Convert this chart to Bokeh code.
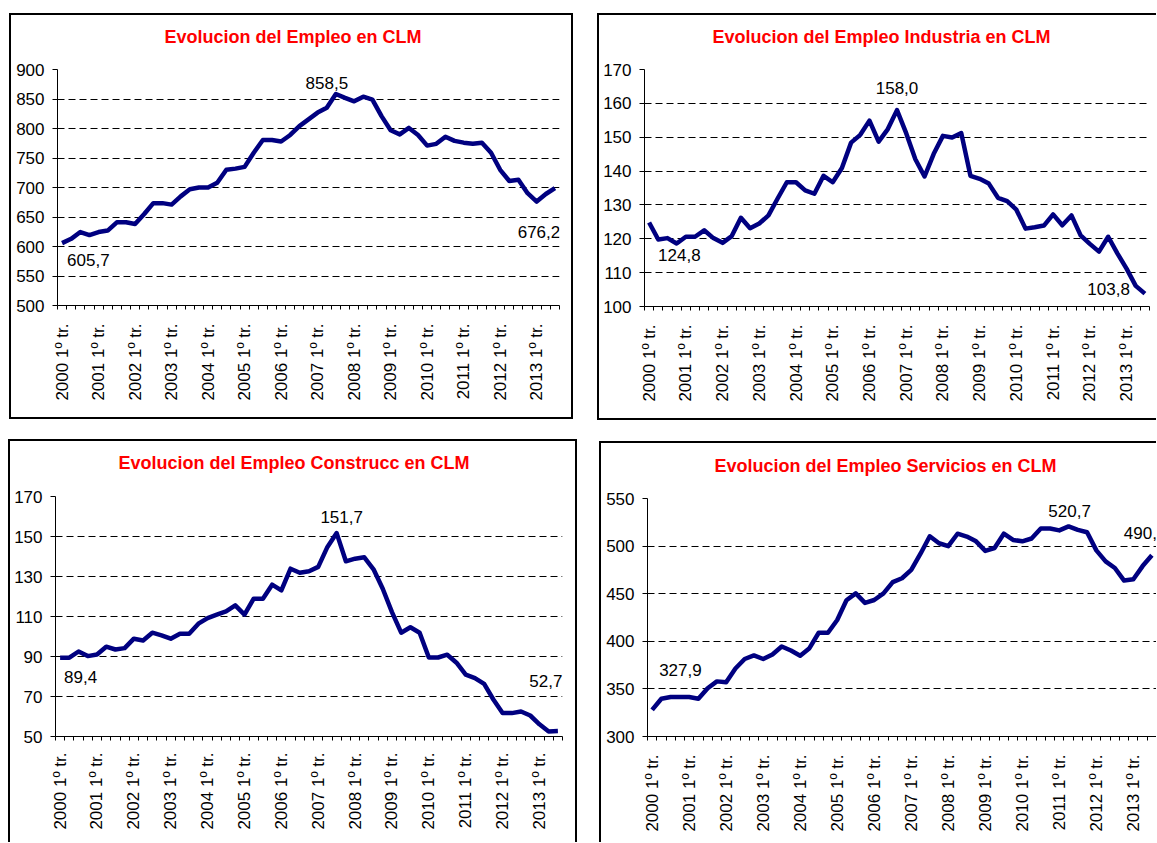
import math
from bokeh.plotting import figure
from bokeh.models import FixedTicker, Label, Range1d, Title
from bokeh.layouts import row, column
from bokeh.embed import file_html
from bokeh.resources import INLINE

# ---------------- data ----------------
tick_index = [0, 4, 8, 12, 16, 20, 24, 28, 32, 36, 40, 44, 48, 52]
tick_labels = ["2000 1º tr.", "2001 1º tr.", "2002 1º tr.", "2003 1º tr.",
               "2004 1º tr.", "2005 1º tr.", "2006 1º tr.", "2007 1º tr.",
               "2008 1º tr.", "2009 1º tr.", "2010 1º tr.", "2011 1º tr.",
               "2012 1º tr.", "2013 1º tr."]

empleo_total = [605.7, 613.0, 624.5, 619.4,
                624.5, 627.0, 641.0, 641.0,
                638.0, 655.0, 673.5, 673.5,
                671.0, 685.0, 697.0, 700.0,
                700.0, 708.0, 730.0, 732.0,
                735.0, 759.0, 780.6, 780.6,
                778.0, 789.0, 804.0, 815.5,
                827.0, 835.0, 858.5, 852.0,
                846.0, 854.0, 849.0, 821.0,
                797.0, 790.0, 801.0, 789.0,
                771.0, 774.0, 786.0, 779.0,
                776.0, 774.0, 776.0, 759.0,
                730.0, 711.0, 713.0, 690.4,
                676.2, 689.0, 699.0]

empleo_industria = [124.8, 119.8, 120.2, 118.6,
                    120.6, 120.6, 122.5, 120.2,
                    118.8, 120.8, 126.2, 123.1,
                    124.5, 126.9, 131.9, 136.7,
                    136.7, 134.3, 133.3, 138.6,
                    136.7, 140.9, 148.4, 150.7,
                    154.9, 148.7, 152.4, 158.0,
                    151.2, 143.5, 138.4, 145.1,
                    150.4, 149.9, 151.2, 138.6,
                    137.7, 136.3, 132.1, 131.1,
                    128.6, 123.0, 123.4, 123.9,
                    127.2, 124.0, 126.9, 121.0,
                    118.5, 116.2, 120.6, 115.7,
                    111.2, 106.1, 103.8]

empleo_construccion = [89.4, 89.4, 92.5, 90.2,
                       91.0, 94.9, 93.5, 94.2,
                       98.9, 98.0, 101.9, 100.6,
                       98.9, 101.4, 101.4, 106.4,
                       109.2, 110.9, 112.6, 115.6,
                       110.9, 118.9, 118.9, 125.9,
                       123.1, 133.9, 131.9, 132.6,
                       134.8, 144.8, 151.7, 137.6,
                       138.9, 139.6, 133.6, 123.9,
                       112.2, 101.9, 104.6, 101.9,
                       89.5, 89.5, 90.9, 86.9,
                       80.9, 79.2, 76.3, 68.5,
                       61.7, 61.7, 62.5, 60.5,
                       56.1, 52.5, 52.7]

empleo_servicios = [327.9, 339.7, 341.4, 341.4,
                    341.4, 339.7, 350.7, 357.9,
                    356.9, 371.4, 381.4, 385.2,
                    381.4, 386.2, 394.5, 390.3,
                    384.8, 392.8, 409.0, 409.0,
                    422.4, 443.1, 450.3, 440.3,
                    443.4, 450.3, 462.1, 466.2,
                    475.0, 492.0, 510.3, 503.0,
                    500.0, 513.0, 510.0, 505.0,
                    495.0, 498.0, 513.0, 506.5,
                    505.0, 508.0, 518.5, 518.5,
                    516.5, 520.7, 517.0, 514.5,
                    495.5, 484.0, 477.0, 463.8,
                    465.2, 479.0, 490.3]

yticks_total = [500, 550, 600, 650, 700, 750, 800, 850, 900]
yticks_industria = [100, 110, 120, 130, 140, 150, 160, 170]
yticks_construccion = [50, 70, 90, 110, 130, 150, 170]
yticks_servicios = [300, 350, 400, 450, 500, 550]

titles = ["Evolucion del Empleo en CLM",
          "Evolucion del Empleo Industria en CLM",
          "Evolucion del Empleo Construcc en CLM",
          "Evolucion del Empleo Servicios en CLM"]

# point labels: (index, text)
labels_total = [(0, "605,7"), (30, "858,5"), (52, "676,2")]
labels_industria = [(0, "124,8"), (27, "158,0"), (54, "103,8")]
labels_construccion = [(0, "89,4"), (30, "151,7"), (54, "52,7")]
labels_servicios = [(0, "327,9"), (45, "520,7"), (54, "490,")]

# ---------------- styling ----------------
FONT = "Liberation Sans"
LINE_COLOR = "#000080"


def make_panel(title, values, yticks, point_labels, label_pos, w, h, borders,
               title_offset, title_gap, x_standoff, margin, shadow):
    n = len(values)
    bl, br, bt, bb = borders
    p = figure(width=w, height=h, output_backend="svg", toolbar_location=None,
               tools="", x_range=Range1d(-0.5, n - 0.5),
               y_range=Range1d(yticks[0], yticks[-1]),
               min_border_left=bl, min_border_right=br,
               min_border_top=bt, min_border_bottom=bb,
               margin=margin)
    p.border_fill_color = None
    p.background_fill_color = None
    p.outline_line_color = None
    p.styles = {"background-color": "white", "box-shadow": shadow}

    # spacer panel between frame and title (keeps the title at the right height)
    p.add_layout(Title(text=" ", text_font_size="1px", standoff=title_gap), "above")
    p.add_layout(Title(text=title, text_font=FONT, text_font_size="18px",
                       text_font_style="bold", text_color="#FF0000",
                       align="left", offset=title_offset, standoff=0), "above")

    yt = FixedTicker(ticks=yticks)
    p.yaxis.ticker = yt
    p.ygrid.ticker = yt
    p.yaxis.major_label_text_font = FONT
    p.yaxis.major_label_text_font_size = "17px"
    p.yaxis.major_label_text_color = "black"
    p.yaxis.major_tick_out = 5
    p.yaxis.major_tick_in = 0
    p.yaxis.major_label_standoff = 8
    p.yaxis.axis_line_color = "black"
    p.yaxis.major_tick_line_color = "black"

    xt = FixedTicker(ticks=tick_index, minor_ticks=[k - 0.5 for k in range(n + 1)])
    p.xaxis.ticker = xt
    p.xaxis.major_label_overrides = dict(zip(tick_index, tick_labels))
    p.xaxis.major_label_orientation = math.pi / 2
    p.xaxis.major_label_text_font = FONT
    p.xaxis.major_label_text_font_size = "17px"
    p.xaxis.major_label_text_color = "black"
    p.xaxis.major_tick_out = 0
    p.xaxis.major_tick_in = 0
    p.xaxis.major_tick_line_color = None
    p.xaxis.minor_tick_out = 4
    p.xaxis.minor_tick_in = 0
    p.xaxis.minor_tick_line_color = "black"
    p.xaxis.axis_line_color = "black"
    p.xaxis.major_label_standoff = x_standoff

    p.xgrid.visible = False
    p.ygrid.grid_line_color = "black"
    p.ygrid.grid_line_dash = "7 4"
    p.ygrid.grid_line_width = 1

    xs = list(range(n))
    p.line(xs, values, line_color=LINE_COLOR, line_width=4.5, line_join="round")

    for (idx, txt), (dx, dy, align) in zip(point_labels, label_pos):
        p.add_layout(Label(x=idx, y=values[idx], text=txt, x_offset=dx, y_offset=dy,
                           text_font=FONT, text_font_size="17px", text_color="black",
                           text_align=align, text_baseline="alphabetic"))
    return p


p1 = make_panel(titles[0], empleo_total, yticks_total, labels_total,
                [(5, -17, "left"), (-9, 11, "center"), (-19, -30, "left")],
                564, 406, (48, 14, 56, 114), 107, 20, 14, (13, 0, 0, 9),
                "inset 2px 0 0 0 #000, inset -2px 0 0 0 #000, inset 0 2px 0 0 #000, inset 0 -2px 0 0 #000")
p2 = make_panel(titles[1], empleo_industria, yticks_industria, labels_industria,
                [(9, -32, "left"), (0, 22, "center"), (-15, 5, "right")],
                559, 407, (47, 7, 56, 113), 68, 20, 14, (13, 0, 0, 24),
                "inset 2px 0 0 0 #000, inset 0 2px 0 0 #000, inset 0 -2px 0 0 #000")
p3 = make_panel(titles[2], empleo_construccion, yticks_construccion, labels_construccion,
                [(4, -19, "left"), (5, 16, "center"), (-12, 50, "center")],
                569, 403, (47, 15, 57, 106), 63, 21, 12, (19, 0, 0, 8),
                "inset 2px 0 0 0 #000, inset -2px 0 0 0 #000, inset 0 2px 0 0 #000")
p4 = make_panel(titles[3], empleo_servicios, yticks_servicios, labels_servicios,
                [(7, 40, "left"), (1, 15, "center"), (-28, 22, "left")],
                557, 401, (48, 0, 56, 103), 67, 20, 14, (21, 0, 0, 22),
                "inset 2px 0 0 0 #000, inset 0 2px 0 0 #000")

layout = column(row(p1, p2), row(p3, p4))

with open("out.html", "w") as f:
    f.write(file_html(layout, INLINE, title="Evolucion del Empleo en CLM"))
